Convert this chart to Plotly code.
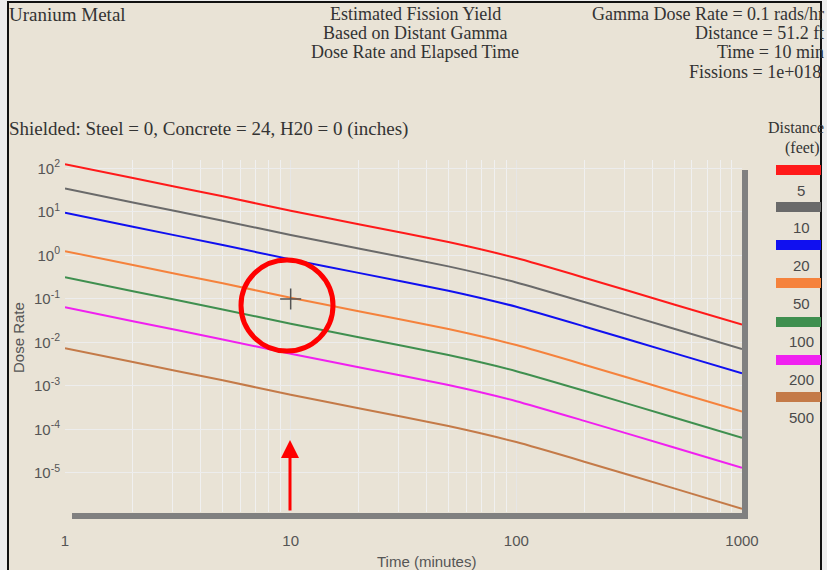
import plotly.graph_objects as go

# ---------------- data ----------------
times = [1, 2, 5, 10, 20, 50, 100, 200, 500, 1000]
distances = ["5", "10", "20", "50", "100", "200", "500"]
colors = ["#FF1A1A", "#6A6A6A", "#1010F0", "#F5823C", "#3F8F4F", "#F020F0", "#C47A48"]

dose_5 = [125.9, 60.3, 22.9, 10.7, 5.25, 2.04, 0.871, 0.309, 0.0750, 0.0257]
dose_10 = [34.7, 16.6, 6.31, 2.95, 1.45, 0.562, 0.240, 0.0851, 0.0207, 0.00708]
dose_20 = [9.55, 4.57, 1.74, 0.813, 0.398, 0.155, 0.0661, 0.0234, 0.00569, 0.00195]
dose_50 = [1.259, 0.603, 0.229, 0.1072, 0.0525, 0.0204, 0.00871, 0.00309, 0.000750, 0.000257]
dose_100 = [0.316, 0.151, 0.0575, 0.0269, 0.0132, 0.00513, 0.00219, 0.000776, 0.000188, 0.0000646]
dose_200 = [0.0646, 0.0309, 0.01175, 0.00550, 0.00269, 0.00105, 0.000447, 0.000158, 0.0000385, 0.0000132]
dose_500 = [0.00741, 0.00355, 0.00135, 0.000631, 0.000309, 0.000120, 0.0000513, 0.0000182, 0.00000442, 0.00000151]
series = [dose_5, dose_10, dose_20, dose_50, dose_100, dose_200, dose_500]

marker_time = [10]
marker_dose = [0.1]

x_tickvals = [1, 10, 100, 1000]
x_ticktext = ["1", "10", "100", "1000"]
y_tickvals = [1e2, 1e1, 1e0, 1e-1, 1e-2, 1e-3, 1e-4, 1e-5]
y_ticktext = ["10<sup>2</sup>", "10<sup>1</sup>", "10<sup>0</sup>", "10<sup>-1</sup>",
              "10<sup>-2</sup>", "10<sup>-3</sup>", "10<sup>-4</sup>", "10<sup>-5</sup>"]

# ---------------- layout geometry ----------------
W, H = 827, 570
L, R, T, B = 65, 742, 160, 512


def px(x):
    return (x - L) / (R - L)


def py(y):
    return (B - y) / (B - T)


fig = go.Figure()
for vals, col in zip(series, colors):
    fig.add_trace(go.Scatter(x=times, y=vals, mode="lines",
                             line=dict(color=col, width=2, shape="spline", smoothing=0.5),
                             hoverinfo="skip", showlegend=False))

fig.add_trace(go.Scatter(x=marker_time, y=marker_dose, mode="markers",
                         marker=dict(symbol="cross-thin", size=15,
                                     line=dict(color="#555555", width=1.5)),
                         showlegend=False, hoverinfo="skip"))

shapes = []
# beige panel with black border
shapes.append(dict(type="rect", xref="paper", yref="paper", layer="below",
                   x0=px(8), x1=px(821), y0=py(575), y1=py(2),
                   fillcolor="#E9E3D6", line=dict(color="#111111", width=2)))
# 3D shadow bars
shapes.append(dict(type="rect", xref="paper", yref="paper",
                   x0=px(72), x1=px(748), y0=py(519), y1=py(513),
                   fillcolor="#808080", line=dict(width=0)))
shapes.append(dict(type="rect", xref="paper", yref="paper",
                   x0=px(742), x1=px(748), y0=py(519), y1=py(170),
                   fillcolor="#808080", line=dict(width=0)))
# red circle
shapes.append(dict(type="circle", xref="paper", yref="paper",
                   x0=px(241), x1=px(333), y0=py(351), y1=py(260),
                   line=dict(color="#FF0000", width=5)))

annotations = []
sans = "Liberation Sans"
# legend
leg_rect_y = [165, 202, 240, 278, 317, 355, 392]
leg_text_y = [190, 227, 265, 303, 341, 379, 417]
for col, d, ry, ty in zip(colors, distances, leg_rect_y, leg_text_y):
    shapes.append(dict(type="rect", xref="paper", yref="paper",
                       x0=px(776), x1=px(821), y0=py(ry + 10), y1=py(ry),
                       fillcolor=col, line=dict(width=0)))
    annotations.append(dict(text=d, xref="paper", yref="paper", x=px(801), y=py(ty),
                            xanchor="center", yanchor="middle", showarrow=False,
                            font=dict(family=sans, size=15, color="#4A4A4A")))


def txt(s, x, y, anchor="left", size=18):
    annotations.append(dict(text=s, xref="paper", yref="paper", x=px(x), y=py(y),
                            xanchor=anchor, yanchor="middle", showarrow=False,
                            font=dict(family="Liberation Serif", size=size, color="#333333")))


txt("Uranium Metal", 7, 14, size=19)
txt("Estimated Fission Yield", 415, 14, "center")
txt("Based on Distant Gamma", 415, 33, "center")
txt("Dose Rate and Elapsed Time", 415, 52, "center")
txt("Gamma Dose Rate = 0.1 rads/hr", 826, 14, "right")
txt("Distance = 51.2 ft", 826, 33, "right")
txt("Time = 10 min", 826, 52, "right")
txt("Fissions = 1e+018", 823, 72, "right")
txt("Shielded: Steel = 0, Concrete = 24, H20 = 0 (inches)", 7, 129, size=19)
txt("Distance", 826, 127, "right", 16)
txt("(feet)", 822, 148, "right", 16)

# axis titles
annotations.append(dict(text="Time (minutes)", xref="paper", yref="paper",
                        x=px(426), y=py(561), xanchor="center", yanchor="middle",
                        showarrow=False, font=dict(family=sans, size=15, color="#555555")))
annotations.append(dict(text="Dose Rate", xref="paper", yref="paper",
                        x=px(18), y=py(338), xanchor="center", yanchor="middle",
                        textangle=-90, showarrow=False,
                        font=dict(family=sans, size=15, color="#555555")))
# red arrow
annotations.append(dict(text="", xref="paper", yref="paper", x=px(290), y=py(440),
                        ax=0, ay=72, showarrow=True, arrowhead=2, arrowsize=1.2,
                        arrowwidth=3, arrowcolor="#FF0000"))

fig.update_layout(
    width=W, height=H,
    margin=dict(l=L, r=W - R, t=T, b=H - B, pad=0),
    paper_bgcolor="#EDEDED",
    plot_bgcolor="#FFFFFF",
    shapes=shapes,
    annotations=annotations,
    showlegend=False,
    xaxis=dict(type="log", range=[0, 3], tickvals=x_tickvals, ticktext=x_ticktext,
               showgrid=True, gridcolor="#E6E6E6", gridwidth=1, zeroline=False,
               showline=False, ticks="", ticklabelstandoff=18,
               minor=dict(showgrid=True, gridcolor="#F0F0F0", dtick="D1"),
               tickfont=dict(family=sans, size=15, color="#555555")),
    yaxis=dict(type="log", range=[-5.897, 2.195], tickvals=y_tickvals, ticktext=y_ticktext,
               showgrid=True, gridcolor="#EDEDED", gridwidth=1, zeroline=False,
               showline=False, ticks="", ticklabelstandoff=4,
               tickfont=dict(family=sans, size=15, color="#555555")),
)

fig.write_html("out.html", config={"displayModeBar": False},
               post_script="document.body.style.margin='0';")
